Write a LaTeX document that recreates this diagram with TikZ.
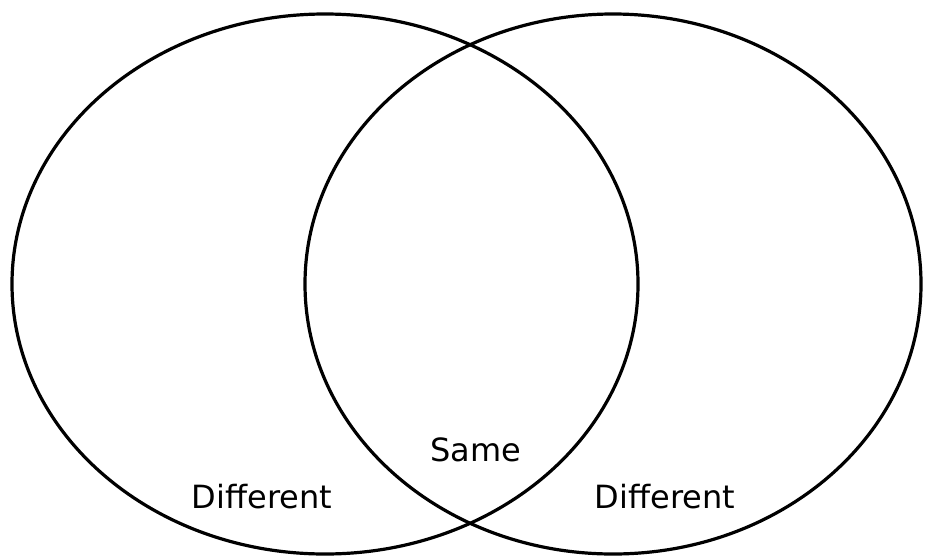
\documentclass[tikz,border=0pt]{standalone}
\usepackage{fontspec}
\setmainfont{DejaVu Sans}
\begin{document}
\begin{tikzpicture}[x=1pt,y=-1pt,
  ring/.style={draw=black,line width=3.2pt},
  lab/.style={font=\fontsize{32}{36}\selectfont,inner sep=0pt,anchor=center}]
\useasboundingbox (0,0) rectangle (925,557);
\draw[ring] (325,284) ellipse [x radius=313, y radius=270];
\draw[ring] (613,284) ellipse [x radius=308, y radius=270];
\node[lab] (same) at (476,450) {Same};
\node[lab] (d1) at (262,497) {Different};
\node[lab] (d2) at (665,497) {Different};
\end{tikzpicture}
\end{document}
